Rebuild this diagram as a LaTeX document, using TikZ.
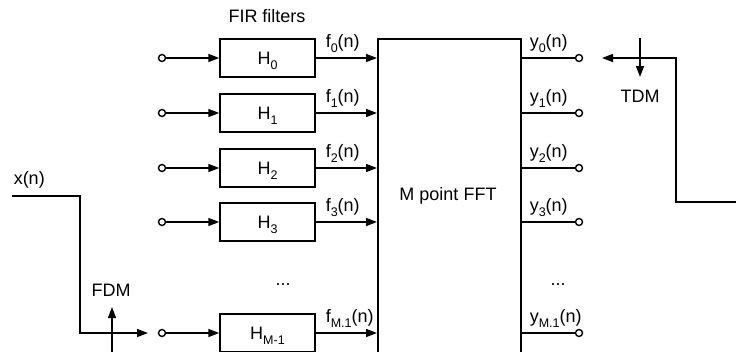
\documentclass[tikz,border=0pt]{standalone}
\usepackage{fontspec}
\setmainfont{Liberation Sans}
\usetikzlibrary{arrows.meta}
\newcommand\lsub[1]{\raisebox{-5pt}{\fontsize{12.5}{12.5}\selectfont #1}}
\begin{document}
\begin{tikzpicture}[x=1pt,y=-1pt,
  line width=1.5pt,
  every node/.style={font=\fontsize{18}{20}\selectfont, inner sep=0pt},
  arr/.style={-{Triangle[length=11pt,width=8pt]}},
  filt/.style={draw, minimum width=95pt, minimum height=38pt},
  term/.style={circle, draw, fill=white, minimum size=7pt, line width=1.4pt},
  lab/.style={anchor=base west},
  txt/.style={anchor=base}]
\clip (0,0) rectangle (736,351);
% FFT block
\node[draw, minimum width=143pt, minimum height=340pt, anchor=north west] (fft) at (377,38) {};
\node (fftlab) at (448,196) {M point FFT};
\node[txt] (fir) at (267,22) {FIR filters};
% filters
\node[filt] (h0) at (267.5,58) {H\smash{\lsub{0}}};
\node[filt] (h1) at (267.5,113) {H\smash{\lsub{1}}};
\node[filt] (h2) at (267.5,168) {H\smash{\lsub{2}}};
\node[filt] (h3) at (267.5,222) {H\smash{\lsub{3}}};
\node[filt] (h4) at (267.5,333) {H\smash{\lsub{M-1}}};
% input terminals
\node[term] (i0) at (162,58) {};
\node[term] (i1) at (162,113) {};
\node[term] (i2) at (162,168) {};
\node[term] (i3) at (162,222) {};
\node[term] (i4) at (162,333) {};
% output terminals
\node[term] (o0) at (579,58) {};
\node[term] (o1) at (579,113) {};
\node[term] (o2) at (579,168) {};
\node[term] (o3) at (579,222) {};
\node[term] (o4) at (579,333) {};
% connectors
\foreach \k in {0,1,2,3,4}{
  \draw[arr] (i\k) -- (h\k);
  \draw[arr] (h\k) -- (h\k -| fft.west);
  \draw (o\k -| fft.east) -- (o\k);
}
% labels
\node[lab] (f0) at (325,47) {f\lsub{0}(n)};
\node[lab] (f1) at (325,102) {f\lsub{1}(n)};
\node[lab] (f2) at (325,157) {f\lsub{2}(n)};
\node[lab] (f3) at (325,211) {f\lsub{3}(n)};
\node[lab] (f4) at (325,322) {f\lsub{M.1}(n)};
\node[lab] (y0) at (529,47) {y\lsub{0}(n)};
\node[lab] (y1) at (529,102) {y\lsub{1}(n)};
\node[lab] (y2) at (529,157) {y\lsub{2}(n)};
\node[lab] (y3) at (529,211) {y\lsub{3}(n)};
\node[lab] (y4) at (529,322) {y\lsub{M.1}(n)};
\node[txt] (d1) at (283,285) {...};
\node[txt] (d2) at (558,285) {...};
% input x(n) and FDM
\node[lab] (xlab) at (13,184) {x(n)};
\coordinate (xs) at (12,196);
\coordinate (xb) at (80,196);
\coordinate (xe) at (148,333);
\draw[arr] (xs) -- (xb) |- (xe);
\coordinate (fdmb) at (112,360);
\coordinate (fdmt) at (112,307);
\draw[arr] (fdmb) -- (fdmt);
\node (fdm) at (111,290) {FDM};
% TDM
\coordinate (ts) at (740,202);
\coordinate (tc) at (676,58);
\coordinate (te) at (602,58);
\draw[arr] (ts) -| (tc) -- (te);
\coordinate (tat) at (640,38);
\coordinate (tab) at (640,77);
\draw[arr] (tat) -- (tab);
\node (tdm) at (640,96.5) {TDM};
\end{tikzpicture}
\end{document}
